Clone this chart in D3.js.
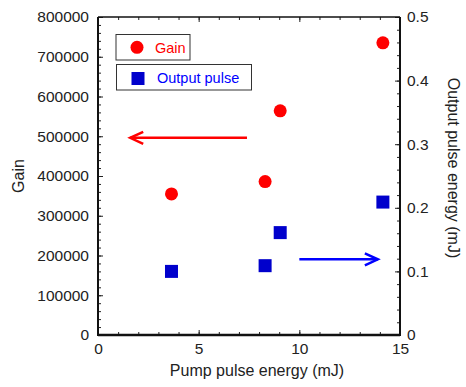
<!DOCTYPE html>
<html>
<head>
<meta charset="utf-8">
<script src="https://cdn.jsdelivr.net/npm/d3@7"></script>
<style>
  body { margin: 0; background: #fff; }
  text { font-family: 'Liberation Sans', Arial, sans-serif; }
</style>
</head>
<body>
<script>
// data
var pump_gain = [3.65, 8.3, 9.05, 14.15];
var gain_values = [355000, 386000, 564000, 735000];
var pump_out = [3.65, 8.3, 9.05, 14.15];
var out_values = [0.100, 0.109, 0.161, 0.209];
var x_ticks = [0, 5, 10, 15];
var gain_ticks = [0, 100000, 200000, 300000, 400000, 500000, 600000, 700000, 800000];
var out_ticks = [0, 0.1, 0.2, 0.3, 0.4, 0.5];
// arrows pointing to the axis each series belongs to
var gain_arrow_x = [7.4, 1.6];
var gain_arrow_y = 496000;
var out_arrow_x = [10.0, 13.9];
var out_arrow_y = 0.119;

var W = 466, H = 387;
var L = 98, R = 400, T = 17, B = 335;

var svg = d3.select('body').append('svg').attr('width', W).attr('height', H);

var x = d3.scaleLinear().domain([0, 15]).range([L, R]);
var yL = d3.scaleLinear().domain([0, 800000]).range([B, T]);
var yR = d3.scaleLinear().domain([0, 0.5]).range([B, T]);

// minor ticks
function minor(axis, count) {
  return axis.ticks(count).tickFormat('').tickSizeOuter(0);
}
svg.append('g').attr('transform', 'translate(0,' + B + ')')
  .call(minor(d3.axisTop(x).tickSize(3), 15));
svg.append('g').attr('transform', 'translate(0,' + T + ')')
  .call(minor(d3.axisBottom(x).tickSize(3), 15));
svg.append('g').attr('transform', 'translate(' + L + ',0)')
  .call(minor(d3.axisRight(yL).tickSize(3), 40));
svg.append('g').attr('transform', 'translate(' + R + ',0)')
  .call(minor(d3.axisLeft(yR).tickSize(3), 25));

// major ticks with labels
var ax = svg.append('g').attr('transform', 'translate(0,' + B + ')')
  .call(d3.axisTop(x).tickValues(x_ticks).tickSize(5).tickSizeOuter(0));
ax.selectAll('text').attr('y', 8).attr('dy', '0.71em');
svg.append('g').attr('transform', 'translate(0,' + T + ')')
  .call(d3.axisBottom(x).tickValues(x_ticks).tickSize(5).tickSizeOuter(0).tickFormat(''));

var al = svg.append('g').attr('transform', 'translate(' + L + ',0)')
  .call(d3.axisRight(yL).tickValues(gain_ticks).tickSize(5).tickSizeOuter(0).tickFormat(d3.format('d')));
al.selectAll('text').attr('x', -9).attr('text-anchor', 'end');

var ar = svg.append('g').attr('transform', 'translate(' + R + ',0)')
  .call(d3.axisLeft(yR).tickValues(out_ticks).tickSize(5).tickSizeOuter(0).tickFormat(function(d){ return d === 0 ? '0' : d3.format('.1f')(d); }));
ar.selectAll('text').attr('x', 7).attr('text-anchor', 'start');

svg.selectAll('.domain').remove();
svg.selectAll('.tick line').attr('stroke', '#222').attr('stroke-width', 1);
svg.selectAll('.tick text').attr('fill', '#222').style('font-size', '15.5px')
  .style('font-family', "'Liberation Sans', Arial, sans-serif");

// frame
svg.append('line').attr('x1', L).attr('y1', T).attr('x2', R).attr('y2', T).attr('stroke', '#111').attr('stroke-width', 1.5);
svg.append('line').attr('x1', L).attr('y1', B).attr('x2', R).attr('y2', B).attr('stroke', '#111').attr('stroke-width', 2.5);
svg.append('line').attr('x1', L).attr('y1', T).attr('x2', L).attr('y2', B + 1).attr('stroke', '#111').attr('stroke-width', 2);
svg.append('line').attr('x1', R).attr('y1', T).attr('x2', R).attr('y2', B + 1).attr('stroke', '#111').attr('stroke-width', 2);

// axis titles
svg.append('text').attr('x', 257).attr('y', 376).attr('text-anchor', 'middle')
  .style('font-size', '16px').attr('fill', '#222').text('Pump pulse energy (mJ)');
svg.append('text').attr('transform', 'translate(24,176) rotate(-90)').attr('text-anchor', 'middle')
  .style('font-size', '16px').attr('fill', '#222').text('Gain');
svg.append('text').attr('transform', 'translate(448,168) rotate(90)').attr('text-anchor', 'middle')
  .style('font-size', '16px').attr('fill', '#222').text('Output pulse energy (mJ)');

// points
svg.selectAll('circle.gain').data(d3.zip(pump_gain, gain_values)).enter()
  .append('circle').attr('class', 'gain')
  .attr('cx', function(d){ return x(d[0]); })
  .attr('cy', function(d){ return yL(d[1]); })
  .attr('r', 6.5).attr('fill', '#ff0000');

var S = 13;
svg.selectAll('rect.out').data(d3.zip(pump_out, out_values)).enter()
  .append('rect').attr('class', 'out')
  .attr('x', function(d){ return x(d[0]) - S / 2; })
  .attr('y', function(d){ return yR(d[1]) - S / 2; })
  .attr('width', S).attr('height', S).attr('fill', '#0000cc');

// arrows
function arrow(x1, x2, y, color) {
  var dir = x2 > x1 ? 1 : -1;
  svg.append('line').attr('x1', x1).attr('y1', y).attr('x2', x2).attr('y2', y)
    .attr('stroke', color).attr('stroke-width', 2.5);
  var p = d3.path();
  p.moveTo(x2 - dir * 13, y - 6);
  p.lineTo(x2, y);
  p.lineTo(x2 - dir * 13, y + 6);
  svg.append('path').attr('d', p).attr('fill', 'none')
    .attr('stroke', color).attr('stroke-width', 2.5);
}
arrow(x(gain_arrow_x[0]), x(gain_arrow_x[1]), yL(gain_arrow_y), '#ff0000');
arrow(x(out_arrow_x[0]), x(out_arrow_x[1]), yR(out_arrow_y), '#0000ff');

// legend
svg.append('rect').attr('x', 116).attr('y', 34.5).attr('width', 74).attr('height', 25.5)
  .attr('fill', 'white').attr('stroke', '#333').attr('stroke-width', 1);
svg.append('circle').attr('cx', 137).attr('cy', 47.3).attr('r', 6.5).attr('fill', '#ff0000');
svg.append('text').attr('x', 155).attr('y', 52.5).style('font-size', '14.5px').attr('fill', '#ff0000').text('Gain');

svg.append('rect').attr('x', 116.5).attr('y', 64.5).attr('width', 135).attr('height', 25.5)
  .attr('fill', 'white').attr('stroke', '#333').attr('stroke-width', 1);
svg.append('rect').attr('x', 131.5).attr('y', 72).attr('width', S).attr('height', S).attr('fill', '#0000cc');
svg.append('text').attr('x', 157).attr('y', 83.3).style('font-size', '14.5px').attr('fill', '#0000ff').text('Output pulse');
</script>
</body>
</html>
